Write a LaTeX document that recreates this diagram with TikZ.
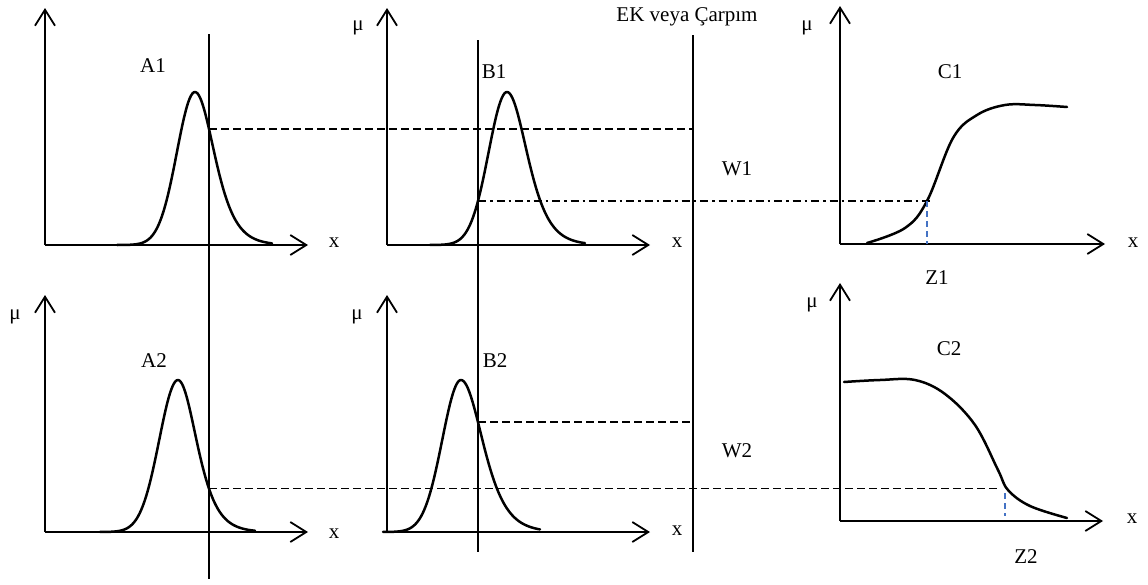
\documentclass[tikz,border=0pt]{standalone}
\usepackage{fontspec}
\setmainfont{Liberation Serif}
\usetikzlibrary{arrows.meta}
\definecolor{zblue}{RGB}{68,114,196}
\begin{document}
\begin{tikzpicture}[x=1pt,y=-1pt,
  axis/.style={line width=1.8pt, -{Straight Barb[length=16pt,width=20pt]}},
  guide/.style={line width=1.6pt},
  curve/.style={line width=2.5pt, line join=round, line cap=round},
  hdash/.style={line width=1.6pt, dash pattern=on 7.5pt off 4.5pt},
  hdashdot/.style={line width=1.5pt, dash pattern=on 8pt off 4pt on 2.5pt off 4pt},
  bluedash/.style={line width=1.4pt, draw=zblue, dash pattern=on 6pt off 4pt},
  lbl/.style={inner sep=0pt, anchor=base, font=\fontsize{21}{25}\selectfont},
]
\useasboundingbox (0,0) rectangle (1148,584);

% ---------- axes ----------
\coordinate (oA1) at (45,245);  \coordinate (yA1) at (45,8);   \coordinate (xA1) at (308,245);
\coordinate (oB1) at (387,245); \coordinate (yB1) at (387,8);  \coordinate (xB1) at (650,245);
\coordinate (oC1) at (840,244); \coordinate (yC1) at (840,6);  \coordinate (xC1) at (1105,244);
\coordinate (oA2) at (45,532);  \coordinate (yA2) at (45,295); \coordinate (xA2) at (308,532);
\coordinate (oB2) at (387,532); \coordinate (yB2) at (387,295);\coordinate (xB2) at (650,532);
\coordinate (oC2) at (840,521); \coordinate (yC2) at (840,283);\coordinate (xC2) at (1103,521);
\foreach \p in {A1,B1,C1,A2,B2,C2}{
  \draw[axis] (o\p) -- (y\p);
  \draw[axis] (o\p) -- (x\p);
}

% ---------- vertical guide lines ----------
\coordinate (vAt) at (209,34);  \coordinate (vAb) at (209,579);
\coordinate (vBt) at (478,40);  \coordinate (vBb) at (478,552);
\coordinate (vWt) at (693,35);  \coordinate (vWb) at (693,552);
\draw[guide] (vAt) -- (vAb);
\draw[guide] (vBt) -- (vBb);
\draw[guide] (vWt) -- (vWb);

% ---------- membership curves (Gaussian left flank, sech^2 right flank) ----------
% A1: peak (195,92), base 245
\draw[curve] plot[domain=117:195, samples=60, smooth]
    (\x, {245-153*exp(-((\x-195)/25.6)*((\x-195)/25.6))})
  -- plot[domain=195:272, samples=60, smooth]
    (\x, {245-153/(cosh((\x-195)/26)*cosh((\x-195)/26))});
% B1: peak (507,92)
\draw[curve] plot[domain=430:507, samples=60, smooth]
    (\x, {245-153*exp(-((\x-507)/26)*((\x-507)/26))})
  -- plot[domain=507:585, samples=60, smooth]
    (\x, {245-153/(cosh((\x-507)/27)*cosh((\x-507)/27))});
% A2: peak (178,380), base 532
\draw[curve] plot[domain=100:178, samples=60, smooth]
    (\x, {532-152*exp(-((\x-178)/26.5)*((\x-178)/26.5))})
  -- plot[domain=178:255, samples=60, smooth]
    (\x, {532-152/(cosh((\x-178)/25)*cosh((\x-178)/25))});
% B2: peak (461,380)
\draw[curve] plot[domain=383:461, samples=60, smooth]
    (\x, {532-152*exp(-((\x-461)/26.5)*((\x-461)/26.5))})
  -- plot[domain=461:540, samples=60, smooth]
    (\x, {532-152/(cosh((\x-461)/29)*cosh((\x-461)/29))});

\draw[curve] plot[smooth, tension=0.6] coordinates {
  (867,243) (905,228) (927,201) (953,138) (977,115) (1005,105) (1035,105) (1067,107)};
\draw[curve] plot[smooth, tension=0.6] coordinates {
  (844,382) (880,380) (915,380) (945,394) (975,425) (998,470) (1008,490)
  (1030,506) (1067,518)};

% ---------- intersection points ----------
\coordinate (pA1) at (209,{245-153/(cosh(14/26)*cosh(14/26))});
\coordinate (pB1) at (478,{245-153*exp(-(29/26)*(29/26))});
\coordinate (pA2) at (209,{532-152/(cosh(31/25)*cosh(31/25))});
\coordinate (pB2) at (478,{532-152/(cosh(17/29)*cosh(17/29))});
\coordinate (pC1) at (927,201);
\coordinate (eC1) at (930,201);
\coordinate (pC2) at (1005,493);
\coordinate (eC2) at (998,489);

% ---------- projection lines ----------
\draw[hdash] (pA1) -- (pA1 -| vWt);
\draw[hdashdot] (pB1) -- (pB1 -| eC1);
\draw[hdash] (pB2) -- (pB2 -| vWt);
\draw[hdash] (pA2) -- (pA2 -| eC2);
\draw[bluedash] (pC1) -- (pC1 |- oC1);
\draw[bluedash] (pC2) -- (1005,516) coordinate (qC2);

% ---------- labels ----------
\node[lbl] (title) at (687,21) {EK veya Çarpım};
\node[lbl] (tA1) at (153,72) {A1};
\node[lbl] (tB1) at (494,78) {B1};
\node[lbl] (tC1) at (950,78) {C1};
\node[lbl] (tA2) at (154,367) {A2};
\node[lbl] (tB2) at (495,367) {B2};
\node[lbl] (tC2) at (949,355) {C2};
\node[lbl] (tW1) at (737,175) {W1};
\node[lbl] (tW2) at (737,457) {W2};
\node[lbl] (tZ1) at (937,284) {Z1};
\node[lbl] (tZ2) at (1026,563) {Z2};

\node[lbl] (mB1) at (358,30) {μ};
\node[lbl] (mC1) at (807,30) {μ};
\node[lbl] (mA2) at (15,319) {μ};
\node[lbl] (mB2) at (357,319) {μ};
\node[lbl] (mC2) at (812,307) {μ};

\node[lbl] (xlA1) at (334,247) {x};
\node[lbl] (xlB1) at (677,247) {x};
\node[lbl] (xlC1) at (1133,247) {x};
\node[lbl] (xlA2) at (334,538) {x};
\node[lbl] (xlB2) at (677,535) {x};
\node[lbl] (xlC2) at (1132,523) {x};
\end{tikzpicture}
\end{document}
